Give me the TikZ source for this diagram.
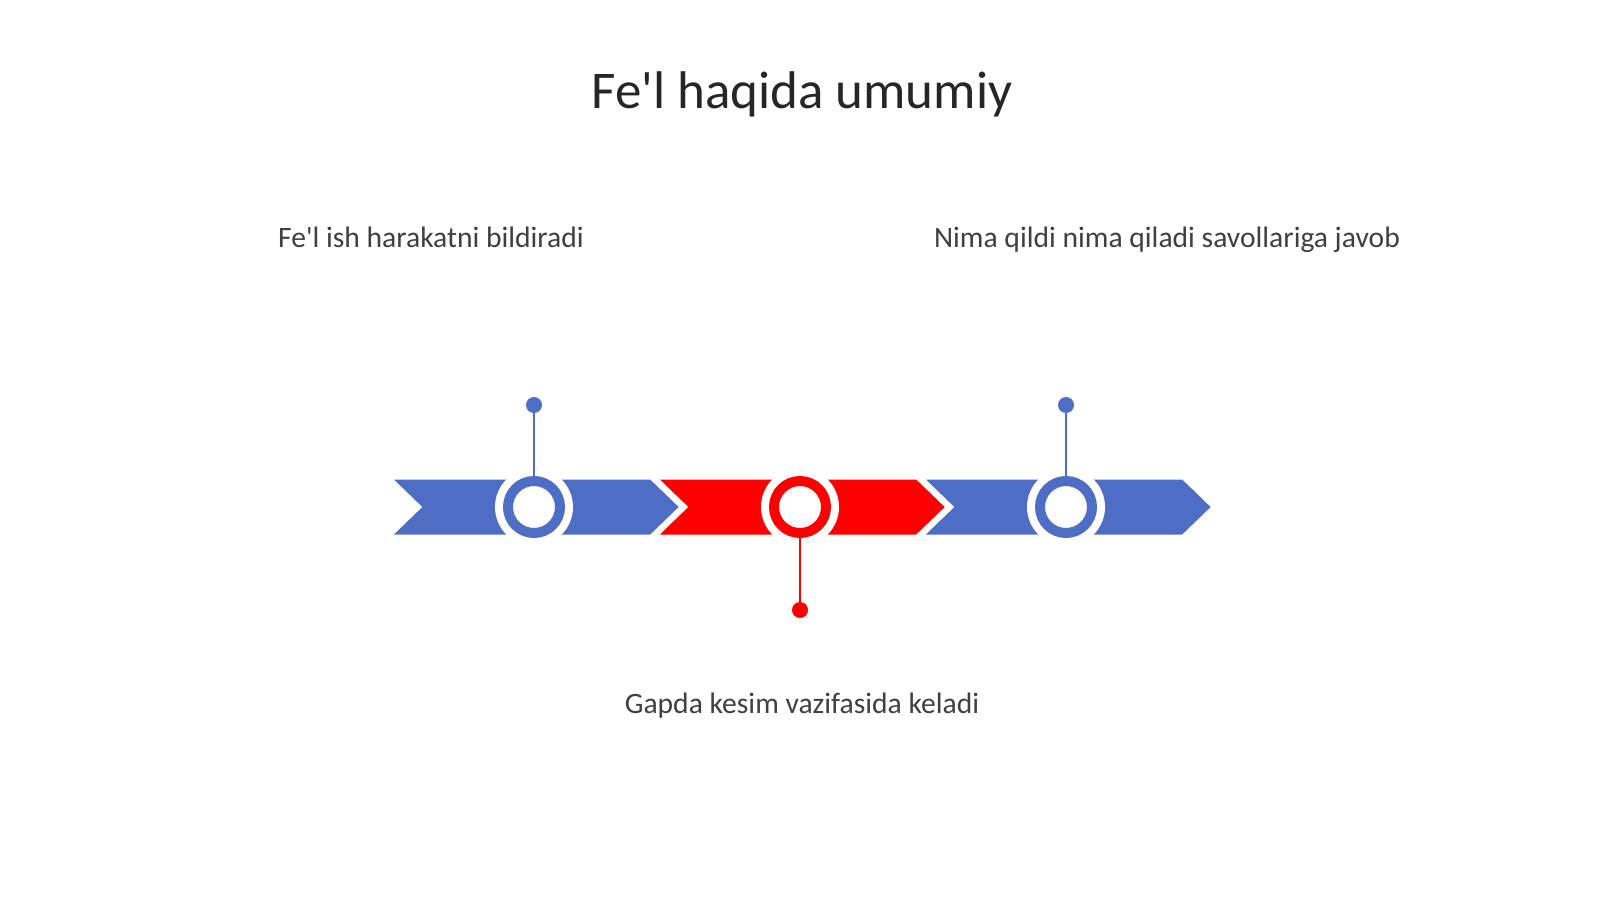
\documentclass[tikz,border=0pt]{standalone}
\usepackage{fontspec}
\newfontfamily\cfont{Carlito}
\definecolor{tlblue}{HTML}{4E6EC6}
\definecolor{tlred}{HTML}{FF0000}
\definecolor{tltext}{HTML}{404040}
\definecolor{tltitle}{HTML}{262626}
\begin{document}
\begin{tikzpicture}[x=1pt,y=-1pt,
  chev/.style={draw=white,line width=3pt,line join=miter},
  ring/.style={circle,fill=white,draw=#1,line width=10pt,minimum size=52pt,inner sep=0pt},
  halo/.style={fill=white},
  pindot/.style={circle,fill=#1,draw=none,minimum size=16pt,inner sep=0pt},
  pinline/.style={draw=#1,line width=2.5pt},
  lbl/.style={text=tltext,font=\cfont\fontsize{29.6}{34}\selectfont,inner sep=0pt,anchor=base},
  ttl/.style={text=tltitle,font=\cfont\fontsize{53}{60}\selectfont,inner sep=0pt,anchor=base}]
\useasboundingbox (0,0) rectangle (1600,899);
\fill[white] (0,0) rectangle (1600,899);
% chevrons
\def\W{291}\def\d{30}
\foreach \x/\c in {390/tlblue,656/tlred,922/tlblue}{
  \filldraw[chev,fill=\c] (\x,478) -- ({\x+\W-\d},478) -- ({\x+\W},507) -- ({\x+\W-\d},536) -- (\x,536) -- ({\x+\d},507) -- cycle;
}
% halos
\foreach \x in {534,800,1066}{\fill[halo] (\x,507) circle[radius=39];}
% rings
\node[ring=tlblue] (r1) at (534,507) {};
\node[ring=tlred] (r2) at (800,507) {};
\node[ring=tlblue] (r3) at (1066,507) {};
% pins
\node[pindot=tlblue] (p1) at (534,405) {};
\node[pindot=tlred] (p2) at (800,610) {};
\node[pindot=tlblue] (p3) at (1066,405) {};
\draw[pinline=tlblue] (p1) -- (r1.north);
\draw[pinline=tlred] (p2) -- (r2.south);
\draw[pinline=tlblue] (p3) -- (r3.north);
% texts
\node[ttl] (title) at (802,108) {Fe'l haqida umumiy};
\node[lbl] (t1) at (431,247) {Fe'l ish harakatni bildiradi};
\node[lbl] (t2) at (1167,247) {Nima qildi nima qiladi savollariga javob};
\node[lbl] (t3) at (802,713) {Gapda kesim vazifasida keladi};
\end{tikzpicture}
\end{document}
